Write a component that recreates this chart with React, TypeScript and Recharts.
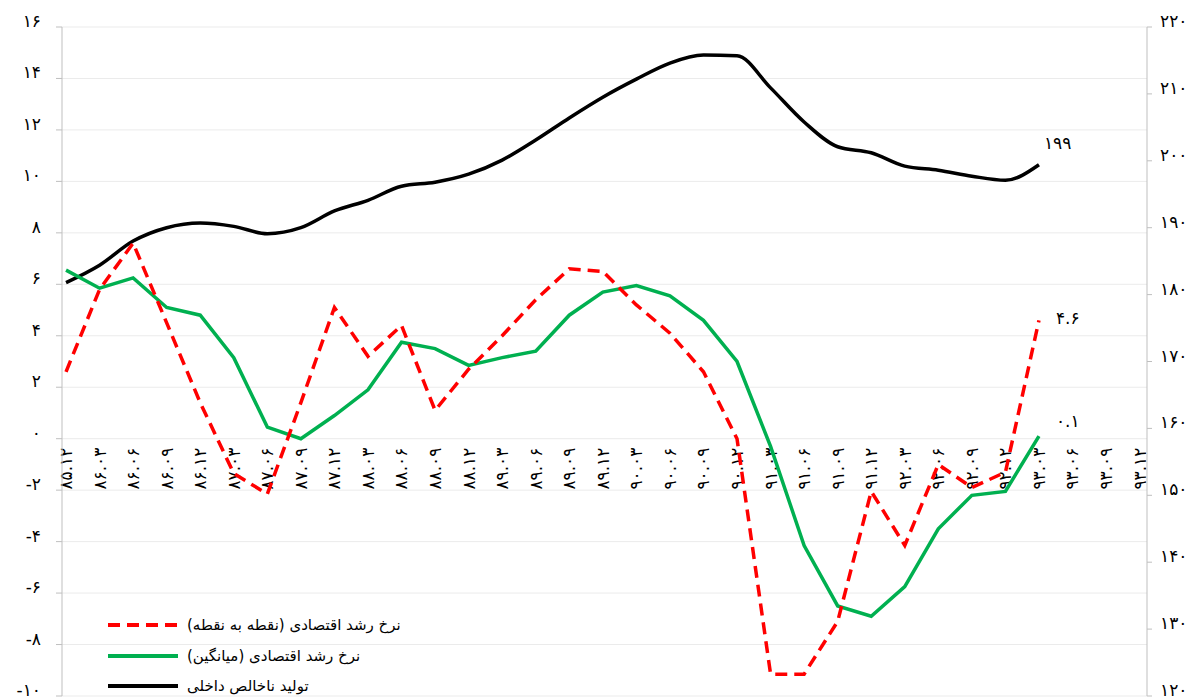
import { LineChart, Line, XAxis, YAxis, CartesianGrid, Legend, LabelList } from 'recharts';

const categories = [
  '۸۵.۱۲', '۸۶.۰۳', '۸۶.۰۶', '۸۶.۰۹', '۸۶.۱۲', '۸۷.۰۳', '۸۷.۰۶', '۸۷.۰۹', '۸۷.۱۲',
  '۸۸.۰۳', '۸۸.۰۶', '۸۸.۰۹', '۸۸.۱۲', '۸۹.۰۳', '۸۹.۰۶', '۸۹.۰۹', '۸۹.۱۲',
  '۹۰.۰۳', '۹۰.۰۶', '۹۰.۰۹', '۹۰.۱۲', '۹۱.۰۳', '۹۱.۰۶', '۹۱.۰۹', '۹۱.۱۲',
  '۹۲.۰۳', '۹۲.۰۶', '۹۲.۰۹', '۹۲.۱۲', '۹۳.۰۳', '۹۳.۰۶', '۹۳.۰۹', '۹۳.۱۲',
];

// نرخ رشد نقطه به نقطه (left axis)
const pointGrowth = [
  2.6, 5.8, 7.6, 4.5, 1.4, -1.35, -2.15, 1.4, 5.1, 3.2, 4.4, 1.1, 2.7,
  4.0, 5.4, 6.6, 6.5, 5.2, 4.1, 2.6, 0.0, -9.15, -9.15, -7.1, -2.05,
  -4.15, -1.0, -1.9, -1.3, 4.6, null, null, null,
];

// نرخ رشد میانگین (left axis)
const avgGrowth = [
  6.55, 5.85, 6.25, 5.1, 4.8, 3.15, 0.45, 0.0, 0.9, 1.9, 3.75, 3.5, 2.85,
  3.15, 3.4, 4.8, 5.7, 5.95, 5.55, 4.6, 3.0, -0.3, -4.15, -6.5, -6.9,
  -5.75, -3.5, -2.2, -2.05, 0.1, null, null, null,
];

// تولید ناخالص داخلی (right axis)
const gdp = [
  181.8, 184.4, 188.0, 190.0, 190.7, 190.2, 189.1, 190.0, 192.5, 194.1, 196.2,
  196.8, 198.0, 200.1, 203.1, 206.4, 209.5, 212.2, 214.6, 215.8, 215.7, 210.9,
  205.8, 202.1, 201.2, 199.2, 198.6, 197.7, 197.1, 199.4, null, null, null,
];

const leftTicks = [-10, -8, -6, -4, -2, 0, 2, 4, 6, 8, 10, 12, 14, 16];
const rightTicks = [120, 130, 140, 150, 160, 170, 180, 190, 200, 210, 220];

const seriesNames = [
  'نرخ رشد اقتصادی (نقطه به نقطه)',
  'نرخ رشد اقتصادی (میانگین)',
  'تولید ناخالص داخلی',
];

const RED = '#ff0000';
const GREEN = '#00b050';
const BLACK = '#000000';
const AXIS = '#bfbfbf';
const DASH = '12 7';

const faDigits = '۰۱۲۳۴۵۶۷۸۹';
const fa = (v: number | string) => String(v).replace(/\d/g, (d) => faDigits[+d]);

const rows = categories.map((c, i) => ({
  idx: i,
  cat: c,
  point: pointGrowth[i],
  avg: avgGrowth[i],
  gdp: gdp[i],
}));

const lastIdx = gdp.filter((v) => v != null).length - 1;

// x range runs a little past the first and last category
const X_DOMAIN: [number, number] = [-0.12, 32.22];
const minorTicks = Array.from({ length: 98 }, (_, k) => X_DOMAIN[0] + k / 3);
const catTicks = categories.map((_, i) => i);

const W = 1195;
const H = 692;
const TOP = 19;
const LEFT_W = 54;
const RIGHT_W = 56;

const endLabel = (dx: number, dy: number, fmt: (v: number) => string) => (props: any) => {
  const { x, y, index, value } = props;
  if (index !== lastIdx || value == null) return null;
  return (
    <text x={x + dx} y={y + dy} fontSize={17} fill="#000" dominantBaseline="central">
      {fmt(value)}
    </text>
  );
};

const CatTick = (props: any) => {
  const { x, y, payload } = props;
  const label = categories[payload.value];
  if (label == null) return null;
  return (
    <g transform={`translate(${x},${y})`}>
      <text transform="rotate(-90)" textAnchor="end" dy="0.35em" fontSize={17} fill="#000">
        {label}
      </text>
    </g>
  );
};

const LegendBox = () => {
  const colors = [RED, GREEN, BLACK];
  return (
    <div>
      {seriesNames.map((name, i) => (
        <div key={name} style={{ display: 'flex', alignItems: 'center', height: 30.5 }}>
          <svg width={70} height={8}>
            <line x1={0} x2={70} y1={4} y2={4} stroke={colors[i]} strokeWidth={4}
              strokeDasharray={i === 0 ? DASH : undefined} />
          </svg>
          <span style={{ display: 'inline-block', marginLeft: 9, direction: 'rtl', fontSize: 15, color: '#000' }}>
            {name}
          </span>
        </div>
      ))}
    </div>
  );
};

export default function App() {
  // zero line sits at the plot bottom of the axis layer
  const zeroY = TOP + ((16 - 0) / 26) * (H - TOP - 4);
  return (
    <div style={{ position: 'relative', width: W, height: H, fontFamily: '"DejaVu Sans", sans-serif' }}>
      {/* category axis layer, crossing at zero */}
      <div style={{ position: 'absolute', left: 0, top: 0 }}>
        <LineChart width={W} height={zeroY + 75} data={rows}
          margin={{ top: TOP, right: RIGHT_W, left: LEFT_W, bottom: 0 }}>
          <XAxis xAxisId="minor" type="number" dataKey="idx" domain={X_DOMAIN} allowDataOverflow
            ticks={minorTicks} interval={0} tick={false} tickSize={5} height={0}
            axisLine={{ stroke: AXIS }} tickLine={{ stroke: AXIS }} />
          <XAxis xAxisId="cat" type="number" dataKey="idx" domain={X_DOMAIN} allowDataOverflow
            ticks={catTicks} interval={0} tick={<CatTick />} tickLine={false} axisLine={false}
            tickSize={0} tickMargin={9} height={75} />
          <YAxis hide domain={[0, 1]} />
        </LineChart>
      </div>

      <div style={{ position: 'absolute', left: 0, top: 0 }}>
        <LineChart width={W} height={H} data={rows} margin={{ top: TOP, right: 0, left: 0, bottom: 4 }}>
          <CartesianGrid vertical={false} stroke="#ebebeb" yAxisId="left" />
          <XAxis hide type="number" dataKey="idx" domain={X_DOMAIN} allowDataOverflow />
          <YAxis yAxisId="left" domain={[-10, 16]} ticks={leftTicks} interval={0} width={LEFT_W}
            tickFormatter={(v: number) => fa(v)} tickSize={6} tickMargin={15}
            axisLine={{ stroke: AXIS }} tickLine={{ stroke: AXIS }}
            tick={{ fill: '#000', fontSize: 17, dy: -6 }} />
          <YAxis yAxisId="right" orientation="right" domain={[120, 220]} ticks={rightTicks} interval={0}
            width={RIGHT_W} tickFormatter={(v: number) => fa(v)} tickSize={5} tickMargin={8}
            axisLine={{ stroke: AXIS }} tickLine={{ stroke: AXIS }}
            tick={{ fill: '#000', fontSize: 17, dy: -6 }} />
          <Legend layout="vertical" align="center" verticalAlign="middle" content={<LegendBox />}
            wrapperStyle={{ left: 100, top: 602, width: 'auto' }} />
          <Line yAxisId="right" dataKey="gdp" name={seriesNames[2]} type="monotone" stroke={BLACK}
            strokeWidth={3.5} dot={false} isAnimationActive={false}>
            <LabelList dataKey="gdp" content={endLabel(5, -22, (v) => fa(Math.round(v)))} />
          </Line>
          <Line yAxisId="left" dataKey="avg" name={seriesNames[1]} type="linear" stroke={GREEN}
            strokeWidth={3.5} dot={false} isAnimationActive={false}>
            <LabelList dataKey="avg" content={endLabel(17, -15, (v) => fa(v.toFixed(1)))} />
          </Line>
          <Line yAxisId="left" dataKey="point" name={seriesNames[0]} type="linear" stroke={RED}
            strokeWidth={3.5} strokeDasharray={DASH} dot={false} isAnimationActive={false}>
            <LabelList dataKey="point" content={endLabel(17, -2, (v) => fa(v.toFixed(1)))} />
          </Line>
        </LineChart>
      </div>
    </div>
  );
}
